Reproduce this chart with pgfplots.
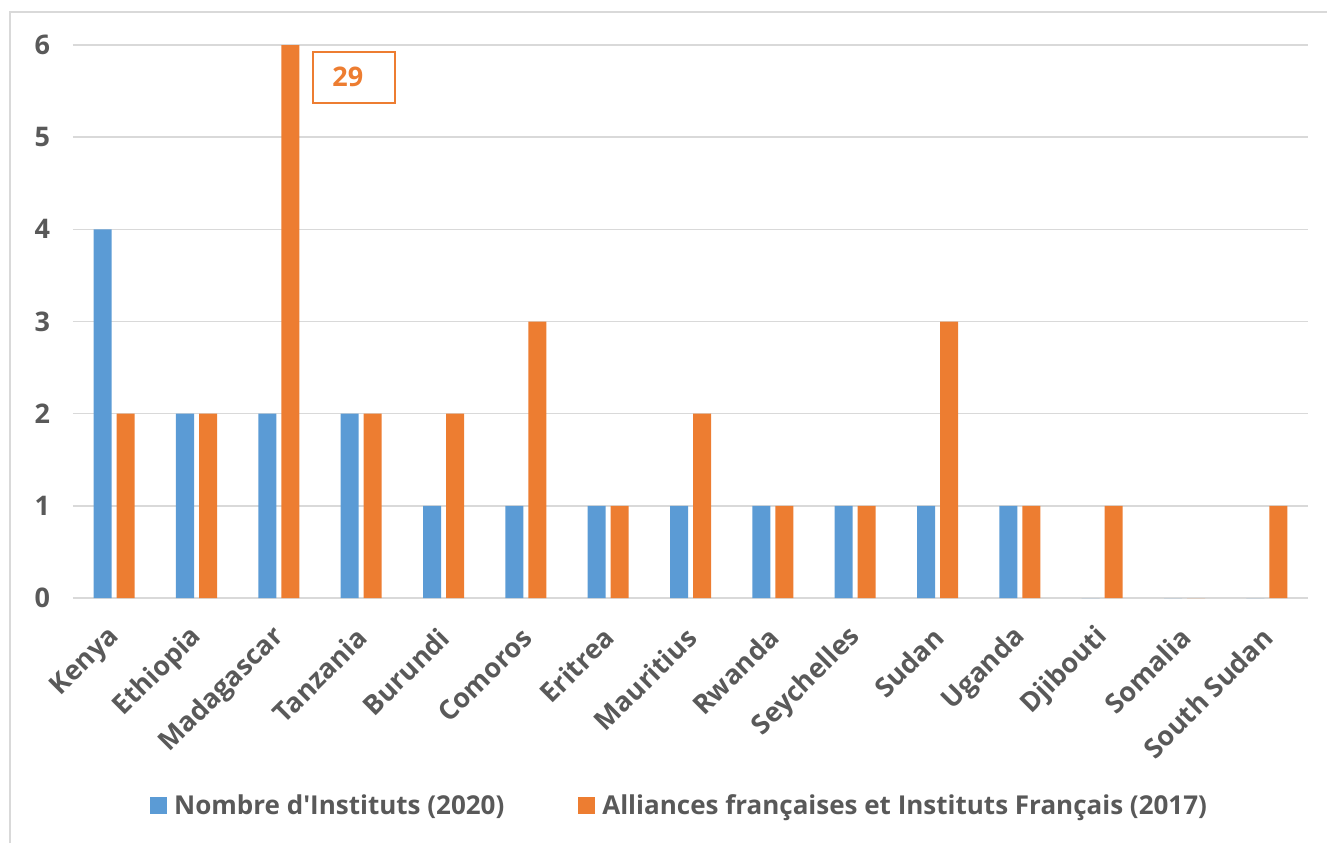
\documentclass[border=0pt]{standalone}
\usepackage{fontspec}
\setmainfont{Open Sans}
\usepackage{pgfplots}
\usepackage{pgfplotstable}
\pgfplotsset{compat=1.18}
\definecolor{barblue}{HTML}{5B9BD5}
\definecolor{barorange}{HTML}{ED7D31}
\definecolor{txtgray}{HTML}{595959}
\definecolor{gridgray}{HTML}{D9D9D9}

% Instituts per country: 2020 count and Alliances/Instituts Francais (2017)
\pgfplotstableread{
idx blue orange
0  4 2
1  2 2
2  2 29
3  2 2
4  1 2
5  1 3
6  1 1
7  1 2
8  1 1
9  1 1
10 1 3
11 1 1
12 0 1
13 0 0
14 0 1
}\datatable

\begin{document}
\begin{tikzpicture}
\path[use as bounding box] (0,0) rectangle (663.5pt,421.5pt);
\draw[gridgray, line width=0.6pt] (5pt,0) -- (5pt,415.5pt) -- (663.5pt,415.5pt);
\begin{axis}[
  at={(36.5pt,122.5pt)}, anchor=south west,
  scale only axis, width=617.5pt, height=276.5pt,
  xmin=-0.5, xmax=14.5, ymin=0, ymax=6,
  ybar, bar width=9pt,
  xtick={0,...,14},
  xticklabels={Kenya,Ethiopia,Madagascar,Tanzania,Burundi,Comoros,Eritrea,Mauritius,Rwanda,Seychelles,Sudan,Uganda,Djibouti,Somalia,South Sudan},
  ytick={0,...,6},
  ymajorgrids, grid style={gridgray, line width=0.75pt},
  axis line style={draw=none},
  major tick length=0pt,
  tick label style={font=\fontsize{13.5}{16}\selectfont\bfseries, text=txtgray},
  /pgf/number format/assume math mode=true,
  yticklabel style={xshift=-8pt},
  xticklabel style={xshift=3pt, yshift=-15pt, rotate=45, anchor=east},
  legend style={at={(0.492,-0.376)}, anchor=center, draw=none,
    legend columns=2, font=\fontsize{13}{15}\selectfont\bfseries, text=txtgray,
    /tikz/every even column/.append style={column sep=35pt}},
  legend image code/.code={\fill[#1] (0pt,-4.25pt) rectangle (8.5pt,4.25pt);
    \path (10pt,0pt);},
]
\addplot[fill=barblue, draw=none, bar shift=-5.75pt] table[x=idx,y=blue]{\datatable};
\addplot[fill=barorange, draw=none, bar shift=5.75pt] table[x=idx,y=orange]{\datatable};
\legend{Nombre d\textquotesingle Instituts (2020), Alliances françaises et Instituts Français (2017)}
\node[draw=barorange, line width=0.9pt, minimum width=41pt, minimum height=25.5pt,
  text=barorange, font=\fontsize{13.5}{16}\selectfont\bfseries] at (axis cs:2.91,5.65) {\hspace*{-6pt}29};
\end{axis}
\end{tikzpicture}
\end{document}
